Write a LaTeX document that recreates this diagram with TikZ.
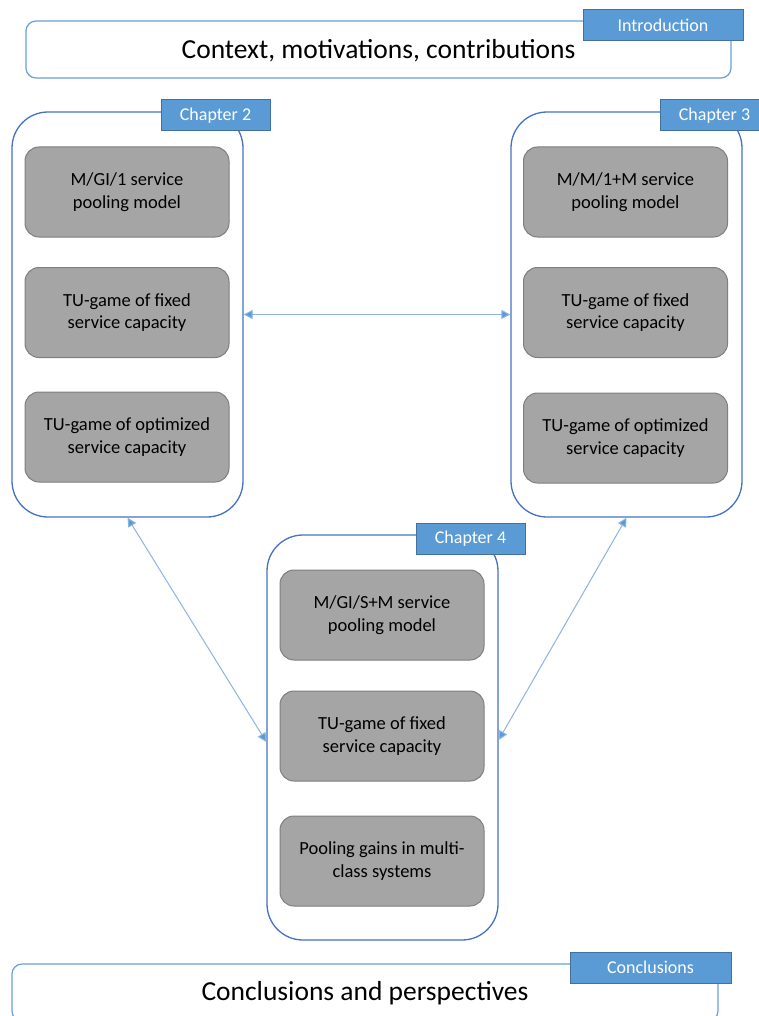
\documentclass[tikz,border=0pt]{standalone}
\usepackage{fontspec}
\setmainfont{Carlito}
\usetikzlibrary{arrows.meta}
\definecolor{frameblue}{HTML}{4472C4}
\definecolor{lightframe}{HTML}{6A9FD8}
\definecolor{tagblue}{HTML}{5B9BD5}
\definecolor{tagedge}{HTML}{41719C}
\definecolor{boxgray}{HTML}{A5A5A5}
\definecolor{boxedge}{HTML}{7F7F7F}
\definecolor{linkblue}{HTML}{8DB4E2}
\begin{document}
\begin{tikzpicture}[x=1pt, y=-1pt,
  frame/.style={draw=frameblue, line width=1.3pt, rounded corners=36pt, minimum width=231pt, minimum height=405pt, inner sep=0pt},
  part/.style={draw=lightframe, line width=1.2pt, rounded corners=10pt, minimum width=705pt, minimum height=57pt, inner sep=0pt},
  tag/.style={draw=tagedge, fill=tagblue, line width=1pt, text=white, minimum height=31pt, inner sep=0pt, font=\fontsize{18}{21}\selectfont},
  item/.style={draw=boxedge, fill=boxgray, line width=1pt, rounded corners=14pt, minimum width=204pt, minimum height=90pt, align=center, inner sep=0pt, font=\fontsize{18.5}{22.5}\selectfont},
  link/.style={draw=linkblue, line width=1pt, {Triangle[length=9pt,width=9pt,fill=tagblue]}-{Triangle[length=9pt,width=9pt,fill=tagblue]}}]
\clip (0,0) rectangle (759,1016);
\fill[white] (0,0) rectangle (759,1016);

% introduction
\node[part] (intro) at (378.5,49.5) {};
\node (introtxt) at (378.5,51) {\fontsize{27.5}{32}\selectfont Context, motivations, contributions};
\node[tag, minimum width=160pt] (tagintro) at (663,25.5) {Introduction};

% chapter 2
\node[frame] (ch2) at (127.5,314.5) {};
\node[tag, minimum width=109pt] (tag2) at (215.5,115.5) {Chapter 2};
\node[item] (c2a) at (127,192) {M/GI/1 service\\pooling model};
\node[item] (c2b) at (127,312.5) {TU-game of fixed\\service capacity};
\node[item] (c2c) at (127,437) {TU-game of optimized\\service capacity};

% chapter 3
\node[frame] (ch3) at (626.5,314.5) {};
\node[tag, minimum width=109pt] (tag3) at (714.5,115.5) {Chapter 3};
\node[item] (c3a) at (625.5,192) {M/M/1+M service\\pooling model};
\node[item] (c3b) at (625.5,312.5) {TU-game of fixed\\service capacity};
\node[item] (c3c) at (625.5,438) {TU-game of optimized\\service capacity};

% chapter 4
\node[frame] (ch4) at (382.5,737.5) {};
\node[tag, minimum width=109pt] (tag4) at (470.5,538.5) {Chapter 4};
\node[item] (c4a) at (382,615) {M/GI/S+M service\\pooling model};
\node[item] (c4b) at (382,736) {TU-game of fixed\\service capacity};
\node[item] (c4c) at (382,861) {Pooling gains in multi-\\class systems};

% conclusions
\node[part, minimum width=706pt] (concl) at (365,992.5) {};
\node (concltxt) at (365,993) {\fontsize{27.5}{32}\selectfont Conclusions and perspectives};
\node[tag, minimum width=161pt] (tagconcl) at (650.5,967.5) {Conclusions};

% links
\draw[link] (ch2.east) -- (ch3.west);
\draw[link] (ch2.south) -- ([yshift=-4.5pt]ch4.west);
\draw[link] (ch3.south) -- ([yshift=-2.5pt]ch4.east);
\end{tikzpicture}
\end{document}
